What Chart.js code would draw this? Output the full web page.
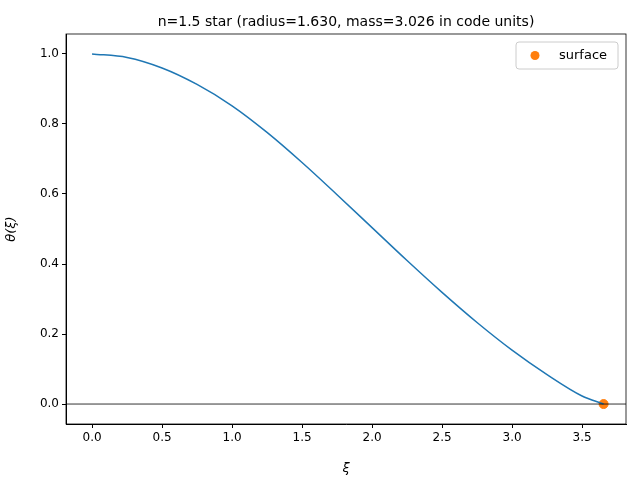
<!DOCTYPE html>
<html><head><script src="https://cdn.jsdelivr.net/npm/chart.js@4"></script>
<style>body{margin:0}</style></head>
<body><canvas id="c" width="640" height="480"></canvas>
<script>
const xi    = [0,0.25,0.5,0.75,1.0,1.25,1.5,1.75,2.0,2.25,2.5,2.75,3.0,3.25,3.5,3.654];
const theta = [1,0.990,0.960,0.913,0.852,0.776,0.690,0.598,0.504,0.410,0.319,0.233,0.154,0.084,0.023,0];
const surfaceX = [3.654], surfaceY = [0];
const titleText = "n=1.5 star (radius=1.630, mass=3.026 in code units)";
const F = "'DejaVu Sans'";
Chart.defaults.font.family = F; Chart.defaults.color = '#000';
const deco = {id:'deco', afterDraw(ch){
  const c=ch.ctx, a=ch.chartArea, y=ch.scales.y;
  c.save();
  c.strokeStyle='#000'; c.lineWidth=0.8;
  const y0=y.getPixelForValue(0);
  c.beginPath(); c.moveTo(a.left,y0); c.lineTo(a.right,y0); c.stroke();
  c.strokeRect(a.left,a.top,a.right-a.left,a.bottom-a.top);
  c.font='14px '+F; c.textAlign='center'; c.fillStyle='#000';
  c.fillText(titleText,(a.left+a.right)/2,a.top-8);
  c.fillStyle='rgba(255,255,255,0.8)'; c.strokeStyle='#ccc'; c.lineWidth=1;
  const bx=516,by=42,bw=102,bh=27;
  c.beginPath(); c.roundRect(bx,by,bw,bh,3); c.fill(); c.stroke();
  c.fillStyle='#ff7f0e'; c.beginPath(); c.arc(bx+19,by+13.5,4.5,0,2*Math.PI); c.fill();
  c.fillStyle='#000'; c.font='13px '+F; c.textAlign='left'; c.textBaseline='middle';
  c.fillText('surface',bx+43,by+14);
  c.restore();
}};
new Chart(document.getElementById('c'),{
  type:'scatter',
  data:{datasets:[
    {data:xi.map((x,i)=>({x,y:theta[i]})),showLine:true,borderColor:'#1f77b4',borderWidth:1.5,pointRadius:0,cubicInterpolationMode:'monotone'},
    {data:surfaceX.map((x,i)=>({x,y:surfaceY[i]})),backgroundColor:'#ff7f0e',borderColor:'#ff7f0e',pointRadius:4.5}
  ]},
  options:{responsive:false,animation:false,devicePixelRatio:1,
    layout:{padding:{top:34,right:14,left:0,bottom:0}},
    plugins:{legend:{display:false},tooltip:{enabled:false}},
    scales:{
      x:{type:'linear',min:-0.186,max:3.814,
        afterBuildTicks(s){s.ticks=[0,0.5,1,1.5,2,2.5,3,3.5].map(v=>({value:v}));},
        afterFit(s){s.height=56;},
        ticks:{callback:v=>v.toFixed(1),font:{size:12},maxRotation:0,padding:3},
        grid:{drawOnChartArea:false,tickLength:4,color:'#000'},border:{color:'#000'},
        title:{display:true,text:'ξ',font:{size:13,style:'italic'},padding:{top:2}}},
      y:{min:-0.057,max:1.057,
        afterBuildTicks(s){s.ticks=[0,0.2,0.4,0.6,0.8,1.0].map(v=>({value:v}));},
        afterFit(s){s.width=66;},
        ticks:{callback:v=>v.toFixed(1),font:{size:12},padding:3},
        grid:{drawOnChartArea:false,tickLength:4,color:'#000'},border:{color:'#000'},
        title:{display:true,text:'θ(ξ)',font:{size:13,style:'italic'},padding:{bottom:2}}}
    }},
  plugins:[deco]
});
</script></body></html>
